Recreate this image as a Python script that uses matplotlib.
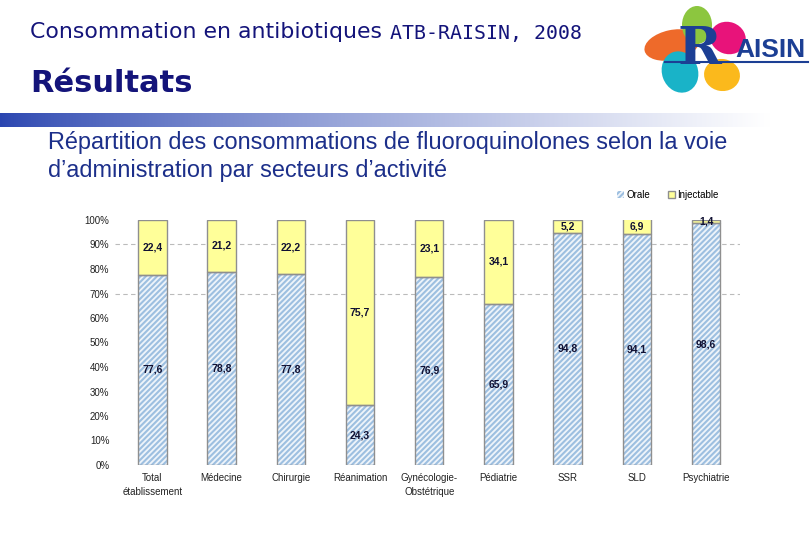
import matplotlib
matplotlib.use("Agg")
import matplotlib.pyplot as plt
import numpy as np
from matplotlib.patches import Ellipse

categories = ["Total\nétablissement", "Médecine", "Chirurgie", "Réanimation",
              "Gynécologie-\nObstétrique", "Pédiatrie", "SSR", "SLD", "Psychiatrie"]
orale = [77.6, 78.8, 77.8, 24.3, 76.9, 65.9, 94.8, 94.1, 98.6]
injectable = [22.4, 21.2, 22.2, 75.7, 23.1, 34.1, 5.2, 6.9, 1.4]
yticks = [0, 10, 20, 30, 40, 50, 60, 70, 80, 90, 100]
gridlines = [70, 90]

plt.rcParams['hatch.linewidth'] = 1.5
plt.rcParams['font.family'] = ['Liberation Sans', 'DejaVu Sans']

fig = plt.figure(figsize=(8.1, 5.4), dpi=100)
navy = "#14147a"

# Header texts
fig.text(30/810, 1-32/540, "Consommation en antibiotiques", fontsize=15.8, color=navy,
         family="DejaVu Sans", va="center", ha="left")
fig.text(390/810, 1-33/540, "ATB-RAISIN, 2008", fontsize=14.3, color=navy,
         family="DejaVu Sans Mono", va="center", ha="left")
fig.text(30/810, 1-83/540, "Résultats", fontsize=22, color=navy, weight="bold",
         family="DejaVu Sans", va="center", ha="left")

# gradient band
gax = fig.add_axes([0, 1-127/540, 1, 14/540])
grad = np.linspace(0, 1, 512)
c0 = np.array([0x2a/255, 0x45/255, 0xb0/255])
c1 = np.array([1.0, 1.0, 1.0])
t = np.clip(grad / 0.95, 0, 1) ** 0.8
img = (c0[None, :] * (1 - t[:, None]) + c1[None, :] * t[:, None])[None, :, :]
gax.imshow(img, aspect="auto", extent=[0, 1, 0, 1])
gax.axis("off")

# Logo
lax = fig.add_axes([640/810, 1-105/540, 170/810, 100/540])
lax.set_xlim(0, 170); lax.set_ylim(0, 100)
lax.axis("off")
petals = [((32, 60), 56, 30, 12, "#ee6a2a"),
          ((57, 80), 30, 38, 0, "#8cc63f"),
          ((88, 67), 36, 32, -20, "#e8137a"),
          ((40, 33), 36, 42, 20, "#19b3c8"),
          ((82, 30), 36, 32, -10, "#fbb91c")]
for (xy, w, h, ang, col) in petals:
    lax.add_patch(Ellipse(xy, w, h, angle=ang, color=col, lw=0))
lax.plot([25, 168], [43, 43], color="#1c3f94", lw=1.5)
lax.text(38, 56, "R", fontsize=38, color="#1c3f94", weight="bold",
         family="DejaVu Serif", va="center", ha="left")
lax.text(95, 55, "AISIN", fontsize=19, color="#1c3f94", weight="bold",
         family="Liberation Sans", va="center", ha="left")

# Subtitle
fig.text(48/810, 1-143/540,
         "Répartition des consommations de fluoroquinolones selon la voie",
         fontsize=16.9, color="#1c2f8a", va="center", ha="left")
fig.text(48/810, 1-171/540, "d’administration par secteurs d’activité",
         fontsize=16.9, color="#1c2f8a", va="center", ha="left")

# Chart
ax = fig.add_axes([115/810, 1-465/540, 625/810, 245/540])
x = np.arange(len(categories))
w = 0.41
ax.bar(x, orale, width=w, color="#eef4fa", edgecolor="#9dbfe0", hatch="//////",
       linewidth=0, zorder=2, label="Orale")
ax.bar(x, injectable, bottom=orale, width=w, color="#ffff99", edgecolor="#8f8f8f",
       linewidth=1.0, zorder=2, label="Injectable")
ax.bar(x, orale, width=w, fill=False, edgecolor="#8f8f8f", linewidth=1.0, zorder=3)

for xi, o, inj in zip(x, orale, injectable):
    ax.text(xi, o/2, f"{o:.1f}".replace(".", ","), ha="center", va="center",
            fontsize=7.5, weight="bold", color="#111133", zorder=4)
    ax.text(xi, o + inj/2, f"{inj:.1f}".replace(".", ","), ha="center", va="center",
            fontsize=7.5, weight="bold", color="#111133", zorder=4)

for g in gridlines:
    ax.axhline(g, color="#bbbbbb", lw=0.8, ls=(0, (4, 3)), zorder=1)

ax.set_xlim(-0.54, 8.49)
ax.set_ylim(0, 100)
ax.set_yticks(yticks)
ax.set_yticklabels([f"{v}%" for v in yticks], fontsize=7, color="#222222")
ax.set_xticks(x)
ax.set_xticklabels(categories, fontsize=7, color="#222222", linespacing=1.4)
ax.tick_params(axis="both", length=0, pad=4)
ax.tick_params(axis="x", pad=6)
for s in ax.spines.values():
    s.set_visible(False)

leg = fig.legend(handles=ax.containers[:2], labels=["Orale", "Injectable"],
                 loc="center left", bbox_to_anchor=(608/810, 1-195/540), ncol=2,
                 frameon=False, fontsize=7, handlelength=0.7, handleheight=0.7,
                 handletextpad=0.3, columnspacing=1.8)

fig.savefig("out.png", dpi=100)
